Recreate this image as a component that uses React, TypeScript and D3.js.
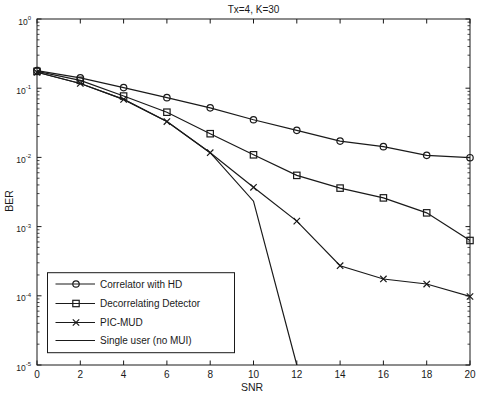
import React from "react";
import * as d3 from "d3";

const snr = [0, 2, 4, 6, 8, 10, 12, 14, 16, 18, 20];
const correlator = [0.18, 0.141, 0.102, 0.073, 0.052, 0.035, 0.0246, 0.0172, 0.0143, 0.0107, 0.0099];
const decorrelating = [0.175, 0.13, 0.077, 0.045, 0.022, 0.0109, 0.0055, 0.0036, 0.0026, 0.00158, 0.00063];
const picMud = [0.17, 0.117, 0.069, 0.033, 0.0117, 0.0037, 0.0012, 0.000272, 0.000175, 0.000148, 0.0000977];
const singleSnr = [0, 2, 4, 6, 8, 10, 12];
const singleUser = [0.17, 0.117, 0.069, 0.033, 0.0117, 0.00233, 0.00001];
const xTicks = [0, 2, 4, 6, 8, 10, 12, 14, 16, 18, 20];
const yExponents = [0, -1, -2, -3, -4, -5];
const legendLabels = ["Correlator with HD", "Decorrelating Detector", "PIC-MUD", "Single user (no MUI)"];
const legendMarkers = ["circle", "square", "x", "none"];
const title = "Tx=4, K=30";

const W = 480, H = 396;
const L = 37, R = 470, T = 19, B = 365;
const FONT = "'Liberation Sans', Arial, Helvetica, sans-serif";
const INK = "#1a1a1a";
const LW = 1.2;

function Marker({ type, cx, cy }: { type: string; cx: number; cy: number }) {
  if (type === "circle") return <circle cx={cx} cy={cy} r={3.2} fill="none" stroke={INK} strokeWidth={LW} />;
  if (type === "square") return <rect x={cx - 3.2} y={cy - 3.2} width={6.4} height={6.4} fill="none" stroke={INK} strokeWidth={LW} />;
  if (type === "x")
    return (
      <path d={`M${cx - 3.2},${cy - 3.2}L${cx + 3.2},${cy + 3.2}M${cx - 3.2},${cy + 3.2}L${cx + 3.2},${cy - 3.2}`} stroke={INK} strokeWidth={LW} />
    );
  return null;
}

export default function App() {
  const x = d3.scaleLinear().domain([0, 20]).range([L, R]);
  const y = d3.scaleLog().domain([1e-5, 1]).range([B, T]);
  const line = d3
    .line<[number, number]>()
    .x((d) => x(d[0]))
    .y((d) => y(d[1]));

  const series = [
    { xs: snr, ys: correlator, m: "circle" },
    { xs: snr, ys: decorrelating, m: "square" },
    { xs: snr, ys: picMud, m: "x" },
    { xs: singleSnr, ys: singleUser, m: "none" },
  ];

  const minor: number[] = [];
  for (let e = -5; e < 0; e++) for (let k = 2; k <= 9; k++) minor.push(k * Math.pow(10, e));

  const legX = 47.5, legY = 272.7, legW = 187, legH = 80;
  const rowY = [284, 303.5, 322.5, 340.5];

  return (
    <svg width={W} height={H} style={{ position: "absolute", left: 0, top: 0, background: "#fff" }} fontFamily={FONT}>
      <defs>
        <clipPath id="plot">
          <rect x={L} y={T} width={R - L} height={B - T} />
        </clipPath>
      </defs>
      <rect x={0} y={0} width={W} height={H} fill="#fff" />
      <text x={(L + R) / 2} y={12.5} textAnchor="middle" fontSize={10} fill={INK}>{title}</text>

      {/* ticks */}
      {xTicks.map((t) => (
        <g key={"xt" + t}>
          <line x1={x(t)} x2={x(t)} y1={B} y2={B - 4.5} stroke={INK} />
          <line x1={x(t)} x2={x(t)} y1={T} y2={T + 4.5} stroke={INK} />
          <text x={x(t)} y={377.5} textAnchor="middle" fontSize={10} fill={INK}>{t}</text>
        </g>
      ))}
      {yExponents.map((e) => (
        <g key={"ye" + e}>
          <line x1={L} x2={L + 4.5} y1={y(Math.pow(10, e))} y2={y(Math.pow(10, e))} stroke={INK} />
          <line x1={R} x2={R - 4.5} y1={y(Math.pow(10, e))} y2={y(Math.pow(10, e))} stroke={INK} />
          <text x={31} y={y(Math.pow(10, e)) + 5.5} textAnchor="end" fontSize={8.5} fill={INK}>
            10<tspan dy={-4.5} fontSize={6}>{e}</tspan>
          </text>
        </g>
      ))}
      {minor.map((v, i) => (
        <g key={"mn" + i}>
          <line x1={L} x2={L + 2.5} y1={y(v)} y2={y(v)} stroke={INK} strokeWidth={0.8} />
          <line x1={R} x2={R - 2.5} y1={y(v)} y2={y(v)} stroke={INK} strokeWidth={0.8} />
        </g>
      ))}

      {/* series */}
      <g clipPath="url(#plot)">
        {series.map((s, i) => (
          <path key={"s" + i} d={line(s.xs.map((v, j) => [v, s.ys[j]] as [number, number])) || ""} fill="none" stroke={INK} strokeWidth={LW} />
        ))}
      </g>
      {series.map((s, i) =>
        s.xs.map((v, j) => <Marker key={"m" + i + "-" + j} type={s.m} cx={x(v)} cy={y(s.ys[j])} />)
      )}

      <rect x={L} y={T} width={R - L} height={B - T} fill="none" stroke={INK} strokeWidth={1} />

      {/* legend */}
      <rect x={legX} y={legY} width={legW} height={legH} fill="#fff" stroke={INK} strokeWidth={1} />
      {legendLabels.map((lab, i) => (
        <g key={"lg" + i}>
          <line x1={55.5} x2={95} y1={rowY[i]} y2={rowY[i]} stroke={INK} strokeWidth={LW} />
          <Marker type={legendMarkers[i]} cx={76} cy={rowY[i]} />
          <text x={100} y={rowY[i] + 3.6} fontSize={10} fill={INK}>{lab}</text>
        </g>
      ))}

      <text x={252} y={391} textAnchor="middle" fontSize={10.5} fill={INK}>SNR</text>
      <text transform={`translate(13,201) rotate(-90)`} textAnchor="middle" fontSize={10.5} fill={INK}>BER</text>
    </svg>
  );
}
